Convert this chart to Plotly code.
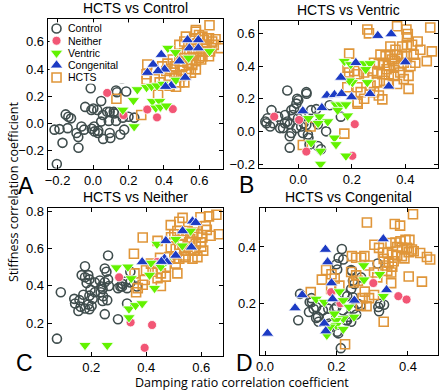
import plotly.graph_objects as go

# ---------------- data ----------------
# Panel A: HCTS vs Control
A_control_x = [-0.204,-0.217,-0.189,-0.172,-0.154,-0.139,-0.124,-0.143,-0.093,-0.083,-0.082,-0.065,-0.05,-0.044,-0.013,-0.009,0.002,-0.007,0.006,0.024,0.046,0.03,0.056,0.057,0.08,0.094,0.089,0.094,0.098,0.117,0.139,0.135,0.163,0.187,0.154,0.168,0.176,0.2,0.233,0.13,0.046,0.009,0.12,0.028,0.13]
A_control_y = [-0.297,-0.045,-0.041,-0.142,0.067,0.05,0.038,-0.034,-0.07,-0.10,-0.178,-0.022,-0.045,0.122,0.259,0.099,0.11,-0.038,-0.022,0.099,0.165,-0.053,0.062,-0.113,0.086,0.086,0.019,-0.07,-0.106,0.086,0.081,0.23,0.331,0.235,-0.081,0.043,-0.045,0.05,0.043,0.242,0.014,-0.058,0.074,-0.07,0.019]
A_neither_x = [0.08,0.172,0.306,0.361,0.45]
A_neither_y = [0.225,0.062,0.103,0.045,0.106]
A_ventric_x = [0.168,0.232,0.228,0.25,0.302,0.33,0.361,0.394,0.335,0.376,0.354,0.38,0.413,0.422,0.465,0.468,0.539,0.657]
A_ventric_y = [0.1,-0.022,0.17,0.25,0.266,0.273,0.278,0.29,0.163,0.163,0.115,0.122,0.13,0.554,0.523,0.32,0.482,0.53]
A_congenital_x = [0.533,0.594,0.543,0.594,0.385,0.339,0.404,0.367,0.307,0.52,0.441,0.409,0.487]
A_congenital_y = [0.614,0.614,0.554,0.554,0.506,0.434,0.398,0.386,0.374,0.338,0.278,0.271,0.458]
A_hcts_x = [0.132,0.272,0.306,0.302,0.302,0.367,0.348,0.376,0.657,0.719,0.58,0.598,0.626,0.644,0.672,0.681,0.515,0.487,0.515,0.543,0.57,0.58,0.598,0.617,0.487,0.506,0.533,0.413,0.441,0.459,0.432,0.468,0.496,0.524,0.552,0.58,0.487,0.515,0.468,0.432,0.552,0.524,0.635,0.654,0.57,0.617,0.654,0.691,0.58,0.56,0.55,0.6,0.62,0.46,0.5,0.53,0.56,0.45,0.59,0.64,0.39,0.42,0.5,0.54,0.61,0.66]
A_hcts_y = [0.182,0.062,0.434,0.362,0.322,0.211,0.326,0.302,0.722,0.554,0.674,0.65,0.614,0.626,0.602,0.578,0.602,0.578,0.518,0.506,0.506,0.458,0.482,0.494,0.458,0.422,0.446,0.386,0.398,0.374,0.35,0.338,0.35,0.362,0.374,0.398,0.302,0.302,0.27,0.278,0.578,0.638,0.53,0.494,0.626,0.638,0.626,0.619,0.686,0.55,0.47,0.53,0.56,0.42,0.48,0.53,0.43,0.47,0.59,0.58,0.42,0.44,0.39,0.4,0.47,0.53]

# Panel B: HCTS vs Ventric
B_control_x = [-0.041,-0.004,-0.007,0.03,-0.1,-0.115,-0.119,-0.094,-0.075,-0.057,-0.041,-0.032,-0.026,-0.02,-0.016,-0.001,0.011,-0.026,-0.032,-0.007,0.011,0.03,0.017,0.036,0.038,0.048,0.067,0.06,0.073,-0.032,0.042,0.073,0.085,0.104,0.159,0.117,-0.123,-0.105,-0.068,-0.049,0.0,0.031,0.02,-0.05]
B_control_y = [0.25,0.2,0.17,0.24,0.13,0.08,0.05,0.05,0.09,0.02,0.06,0.044,0.13,0.1,0.14,0.08,0.09,-0.01,-0.03,0.02,0.03,0.04,-0.01,-0.02,-0.04,0.13,0.136,0.076,0.044,-0.1,-0.08,-0.09,-0.11,0.0,0.09,0.16,0.06,0.03,0.02,0.1,0.19,0.23,0.05,0.05]
B_neither_x = [-0.09,0.003,0.03,0.211,0.202]
B_neither_y = [0.09,0.07,-0.124,0.044,-0.15]
B_ventric_x = [0.172,0.196,0.246,0.268,0.252,0.202,0.258,0.141,0.159,0.178,0.184,0.147,0.11,0.079,0.038,0.074,0.048,0.083,0.135,0.141,0.083,0.178,0.191]
B_ventric_y = [0.43,0.41,0.416,0.416,0.38,0.3,0.3,0.164,0.164,0.164,0.096,0.13,0.06,0.09,0.08,0.05,-0.07,-0.12,-0.04,-0.08,-0.2,-0.15,0.31]
B_congenital_x = [0.297,0.347,0.4,0.215,0.159,0.107,0.135,0.162,0.199,0.088,0.017,0.268,0.338]
B_congenital_y = [0.586,0.596,0.424,0.42,0.33,0.22,0.224,0.23,0.21,0.144,0.124,0.23,0.276]
B_hcts_x = [0.264,0.258,0.369,0.404,0.409,0.406,0.493,0.48,0.412,0.412,0.314,0.19,0.388,0.406,0.425,0.446,0.456,0.344,0.363,0.307,0.326,0.344,0.369,0.388,0.406,0.431,0.283,0.301,0.32,0.338,0.357,0.375,0.394,0.419,0.437,0.277,0.295,0.314,0.338,0.357,0.381,0.295,0.32,0.338,0.369,0.394,0.246,0.221,0.233,0.246,0.221,0.283,0.301,0.184,0.19,0.209,0.221,0.046,0.017,0.172,0.499,0.35,0.33,0.36,0.26,0.27,0.183,0.222]
B_hcts_y = [0.6,0.624,0.644,0.624,0.596,0.576,0.636,0.43,0.34,0.26,0.196,0.476,0.52,0.53,0.53,0.55,0.5,0.52,0.5,0.47,0.46,0.47,0.47,0.46,0.46,0.47,0.42,0.41,0.42,0.4,0.39,0.4,0.42,0.4,0.42,0.37,0.36,0.35,0.35,0.34,0.36,0.3,0.31,0.29,0.29,0.32,0.36,0.35,0.24,0.2,0.18,0.24,0.22,0.39,0.36,0.37,0.27,0.03,-0.084,-0.014,0.49,0.44,0.38,0.43,0.33,0.28,0.27,0.17]

# Panel C: HCTS vs Neither
C_control_x = [0.075,0.089,0.138,0.141,0.157,0.161,0.153,0.165,0.177,0.189,0.183,0.193,0.177,0.171,0.193,0.197,0.205,0.213,0.189,0.193,0.177,0.201,0.213,0.231,0.234,0.243,0.241,0.258,0.249,0.237,0.241,0.249,0.255,0.261,0.249,0.261,0.264,0.297,0.297,0.306,0.313,0.33,0.342,0.342,0.366,0.33,0.324,0.312]
C_control_y = [0.118,0.366,0.331,0.306,0.324,0.289,0.266,0.458,0.446,0.458,0.415,0.435,0.505,0.353,0.348,0.38,0.331,0.366,0.301,0.275,0.279,0.293,0.418,0.429,0.366,0.345,0.319,0.324,0.249,0.397,0.383,0.493,0.476,0.563,0.42,0.435,0.4,0.222,0.388,0.397,0.411,0.306,0.418,0.476,0.397,0.388,0.424,0.397]
C_neither_x = [0.301,0.343,0.421,0.394,0.439]
C_neither_y = [0.446,0.205,0.191,0.069,0.528]
C_ventric_x = [0.177,0.258,0.291,0.333,0.345,0.337,0.361,0.385,0.337,0.412,0.417,0.43,0.439,0.507,0.531,0.561,0.453,0.471]
C_ventric_y = [0.083,0.083,0.498,0.502,0.44,0.278,0.296,0.306,0.231,0.458,0.523,0.388,0.624,0.65,0.615,0.694,0.502,0.53]
C_congenital_x = [0.385,0.466,0.475,0.471,0.532,0.568,0.58,0.564,0.507,0.455]
C_congenital_y = [0.528,0.546,0.528,0.641,0.694,0.746,0.738,0.607,0.563,0.53]
C_hcts_x = [0.387,0.355,0.441,0.489,0.52,0.532,0.597,0.628,0.655,0.634,0.664,0.616,0.513,0.502,0.532,0.55,0.568,0.586,0.604,0.532,0.556,0.58,0.598,0.489,0.507,0.538,0.561,0.484,0.502,0.52,0.543,0.568,0.586,0.607,0.471,0.507,0.543,0.513,0.453,0.471,0.441,0.357,0.394,0.387,0.369,0.453,0.363,0.417,0.441,0.423,0.399,0.577,0.56,0.575,0.62,0.45,0.52,0.55,0.6,0.49]
C_hcts_y = [0.659,0.572,0.641,0.725,0.743,0.764,0.767,0.772,0.781,0.668,0.676,0.72,0.694,0.676,0.668,0.694,0.685,0.676,0.659,0.624,0.633,0.624,0.633,0.607,0.598,0.589,0.589,0.554,0.546,0.546,0.554,0.546,0.554,0.589,0.502,0.52,0.563,0.467,0.467,0.45,0.441,0.467,0.432,0.406,0.388,0.4,0.366,0.519,0.493,0.476,0.484,0.589,0.65,0.71,0.7,0.55,0.62,0.61,0.61,0.66]

# Panel D: HCTS vs Congenital
D_control_x = [0.098,0.093,0.125,0.13,0.143,0.123,0.143,0.162,0.175,0.18,0.202,0.2,0.206,0.215,0.212,0.202,0.194,0.222,0.23,0.232,0.218,0.227,0.232,0.241,0.246,0.241,0.248,0.255,0.241,0.269,0.267,0.317,0.322,0.333,0.319,0.315,0.219,0.243,0.246,0.23,0.205,0.131,0.136,0.148,0.15,0.177,0.2,0.26,0.25]
D_control_y = [0.235,0.142,0.206,0.22,0.189,0.171,0.15,0.177,0.154,0.131,0.321,0.339,0.362,0.393,0.044,0.102,0.181,0.235,0.227,0.206,0.177,0.142,0.154,0.252,0.281,0.319,0.183,0.162,0.137,0.293,0.194,0.189,0.2,0.197,0.174,0.342,0.356,0.316,0.223,0.142,0.096,0.206,0.183,0.154,0.137,0.183,0.189,0.2,0.27]
D_neither_x = [0.185,0.211,0.303,0.373,0.396]
D_neither_y = [0.241,0.202,0.273,0.227,0.215]
D_ventric_x = [0.143,0.166,0.208,0.219,0.235,0.249,0.219,0.199,0.199,0.219,0.182,0.173,0.276,0.277,0.321,0.331,0.194]
D_ventric_y = [0.217,0.206,0.243,0.212,0.189,0.154,0.148,0.142,0.125,0.111,0.119,0.09,0.335,0.285,0.304,0.227,0.165]
D_congenital_x = [0.007,0.084,0.104,0.169,0.175,0.186,0.189,0.166,0.17,0.25,0.331,0.34]
D_congenital_y = [0.096,0.185,0.231,0.391,0.347,0.273,0.217,0.131,0.104,0.212,0.428,0.249]
D_hcts_x = [0.414,0.285,0.363,0.378,0.306,0.319,0.243,0.255,0.269,0.278,0.171,0.186,0.195,0.128,0.241,0.255,0.26,0.351,0.365,0.379,0.393,0.404,0.383,0.397,0.411,0.342,0.356,0.37,0.383,0.402,0.416,0.434,0.453,0.462,0.36,0.346,0.337,0.356,0.342,0.353,0.332,0.439,0.402,0.353,0.305,0.279,0.273,0.291,0.268,0.284,0.332,0.224,0.248,0.305,0.314,0.291,0.159,0.185,0.208,0.37,0.33,0.39]
D_hcts_y = [0.515,0.486,0.481,0.475,0.408,0.397,0.368,0.362,0.362,0.368,0.319,0.304,0.289,0.241,0.312,0.3,0.281,0.414,0.416,0.42,0.425,0.425,0.397,0.397,0.391,0.379,0.373,0.37,0.368,0.382,0.385,0.379,0.365,0.356,0.35,0.345,0.335,0.331,0.316,0.31,0.358,0.278,0.296,0.273,0.231,0.243,0.22,0.22,0.194,0.192,0.137,0.058,0.275,0.31,0.293,0.335,0.285,0.252,0.264,0.4,0.38,0.36]

panel_titles = ["HCTS vs Control", "HCTS vs Ventric", "HCTS vs Neither", "HCTS vs Congenital"]
panel_letters = ["A", "B", "C", "D"]
group_names = ["Control", "Neither", "Ventric", "Congenital", "HCTS"]

# ---------------- styling ----------------
SANS = "Liberation Sans, Arial, sans-serif"
TICKFONT = dict(family=SANS, size=13, color="black")
styles = {
    "Control":    dict(symbol="circle-open", size=9, color="#3f4d4d", line=dict(width=1.6, color="#3f4d4d")),
    "Neither":    dict(symbol="circle", size=9, color="#f25675", line=dict(width=0.8, color="white")),
    "Ventric":    dict(symbol="triangle-down", size=11, color="#62f200", line=dict(width=0.8, color="white")),
    "Congenital": dict(symbol="triangle-up", size=11, color="#1c3bc4", line=dict(width=0.8, color="white")),
    "HCTS":       dict(symbol="square-open", size=9, color="#e0963a", line=dict(width=1.6, color="#e0963a")),
}
draw_order = ["Control", "HCTS", "Neither", "Ventric", "Congenital"]

W, H = 440, 392
def px_x(a, b):
    return [a / W, b / W]
def px_y(top, bottom):
    return [1 - bottom / H, 1 - top / H]

panels = [
    dict(data={"Control": (A_control_x, A_control_y), "Neither": (A_neither_x, A_neither_y),
               "Ventric": (A_ventric_x, A_ventric_y), "Congenital": (A_congenital_x, A_congenital_y),
               "HCTS": (A_hcts_x, A_hcts_y)},
         xdom=px_x(44, 221), ydom=px_y(15, 168),
         xr=[-0.256, 0.733], yr=[-0.331, 0.77],
         xt=[-0.2, 0.0, 0.2, 0.4, 0.6], yt=[-0.2, 0.0, 0.2, 0.4, 0.6], letter_at=(22, 185)),
    dict(data={"Control": (B_control_x, B_control_y), "Neither": (B_neither_x, B_neither_y),
               "Ventric": (B_ventric_x, B_ventric_y), "Congenital": (B_congenital_x, B_congenital_y),
               "HCTS": (B_hcts_x, B_hcts_y)},
         xdom=px_x(257, 438), ydom=px_y(17, 167),
         xr=[-0.148, 0.522], yr=[-0.222, 0.678],
         xt=[0.0, 0.2, 0.4], yt=[-0.2, 0.0, 0.2, 0.4, 0.6], letter_at=(245, 184)),
    dict(data={"Control": (C_control_x, C_control_y), "Neither": (C_neither_x, C_neither_y),
               "Ventric": (C_ventric_x, C_ventric_y), "Congenital": (C_congenital_x, C_congenital_y),
               "HCTS": (C_hcts_x, C_hcts_y)},
         xdom=px_x(44, 221), ydom=px_y(208, 359),
         xr=[0.041, 0.679], yr=[0.027, 0.818],
         xt=[0.2, 0.4, 0.6], yt=[0.2, 0.4, 0.6, 0.8], letter_at=(21, 366)),
    dict(data={"Control": (D_control_x, D_control_y), "Neither": (D_neither_x, D_neither_y),
               "Ventric": (D_ventric_x, D_ventric_y), "Congenital": (D_congenital_x, D_congenital_y),
               "HCTS": (D_hcts_x, D_hcts_y)},
         xdom=px_x(258, 438), ydom=px_y(208, 358),
         xr=[-0.015, 0.484], yr=[0.021, 0.538],
         xt=[0.0, 0.2, 0.4], yt=[0.2, 0.4], letter_at=(243, 366)),
]

fig = go.Figure()
layout = dict(
    width=W, height=H, margin=dict(l=0, r=0, t=0, b=0),
    paper_bgcolor="white", plot_bgcolor="white",
    font=dict(family=SANS, size=13, color="black"),
    showlegend=False,
    annotations=[],
)

for i, p in enumerate(panels):
    n = "" if i == 0 else str(i + 1)
    xa, ya = "x" + n, "y" + n
    for g in draw_order:
        xs, ys = p["data"][g]
        st = styles[g]
        fig.add_trace(go.Scatter(
            x=xs, y=ys, mode="markers", name=g, xaxis=xa, yaxis=ya,
            marker=dict(symbol=st["symbol"], size=st["size"], color=st["color"], line=st["line"]),
            hoverinfo="skip"))
    axcommon = dict(showline=True, linecolor="black", linewidth=1, mirror="ticks",
                    ticks="inside", ticklen=4, tickcolor="black", showgrid=False,
                    zeroline=False, tickfont=TICKFONT, tickformat=".1f")
    layout["xaxis" + n] = dict(axcommon, domain=p["xdom"], range=p["xr"], tickvals=p["xt"], anchor=ya)
    layout["yaxis" + n] = dict(axcommon, domain=p["ydom"], range=p["yr"], tickvals=p["yt"], anchor=xa)
    layout["annotations"].append(dict(
        text=panel_titles[i], xref="paper", yref="paper",
        x=(p["xdom"][0] + p["xdom"][1]) / 2, y=p["ydom"][1], yshift=1,
        xanchor="center", yanchor="bottom", showarrow=False,
        font=dict(size=14, family=SANS)))
    lx, ly = p["letter_at"]
    layout["annotations"].append(dict(
        text=panel_letters[i], xref="paper", yref="paper",
        x=lx / W, y=1 - ly / H, xanchor="center", yanchor="middle",
        height=23, borderpad=0, showarrow=False,
        font=dict(size=23, family=SANS)))

# ---- legend inside panel A, drawn on an overlay axis pair (pixel-like units) ----
legend_rows = list(range(len(group_names)))
layout["xaxis5"] = dict(domain=px_x(46, 126), range=[0, 80], visible=False, anchor="y5", fixedrange=True)
layout["yaxis5"] = dict(domain=px_y(18.75, 81.25), range=[len(group_names) - 0.5, -0.5],
                        visible=False, anchor="x5", fixedrange=True)
for r, g in zip(legend_rows, group_names):
    st = styles[g]
    fig.add_trace(go.Scatter(
        x=[7], y=[r], mode="markers", xaxis="x5", yaxis="y5", name=g,
        marker=dict(symbol=st["symbol"], size=st["size"], color=st["color"], line=st["line"]),
        hoverinfo="skip"))
    layout["annotations"].append(dict(
        text=g, xref="x5", yref="y5", x=17, y=r, xanchor="left", yanchor="middle",
        showarrow=False, font=dict(size=10.5, family=SANS)))

layout["annotations"].append(dict(
    text="Damping ratio correlation coefficient", xref="paper", yref="paper",
    x=240 / W, y=1 - 386 / H, xanchor="center", yanchor="middle", showarrow=False,
    height=15, borderpad=0,
    font=dict(size=12.5, family="Open Sans, sans-serif")))
layout["annotations"].append(dict(
    text="Stiffness correlation coefficient", xref="paper", yref="paper",
    x=9 / W, y=1 - 191 / H, xanchor="center", yanchor="middle", showarrow=False, textangle=-90,
    font=dict(size=12.5, family="Open Sans, sans-serif")))

fig.update_layout(**layout)
fig.write_html("out.html", config={"displayModeBar": False},
               post_script="document.body.style.margin='0px';")
